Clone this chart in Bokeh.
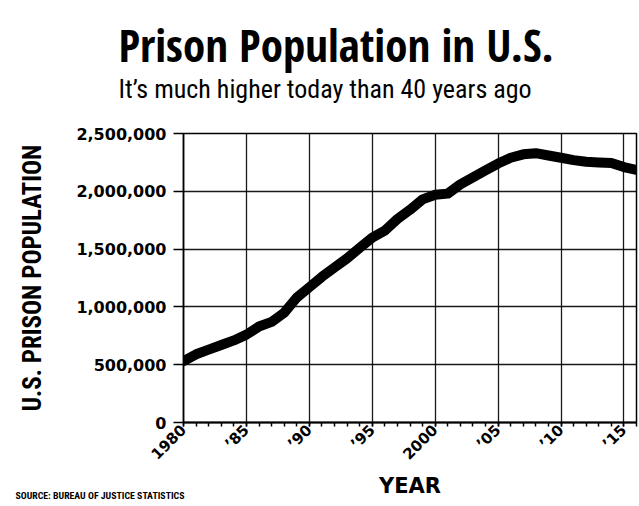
import math
from bokeh.plotting import figure
from bokeh.models import Range1d, FixedTicker, NumeralTickFormatter, Title
from bokeh.embed import file_html
from bokeh.resources import INLINE

# ---- data ----
years = list(range(1980, 2017))
population = [530000, 590000, 630000, 670000, 710000, 760000, 830000, 870000,
              950000, 1080000, 1170000, 1260000, 1340000, 1420000, 1510000,
              1600000, 1660000, 1760000, 1840000, 1930000, 1970000, 1980000,
              2060000, 2120000, 2180000, 2240000, 2290000, 2320000, 2330000,
              2310000, 2290000, 2270000, 2255000, 2250000, 2245000, 2210000,
              2185000]
x_ticks = [1980, 1985, 1990, 1995, 2000, 2005, 2010, 2015]
x_tick_labels = ["1980", "\u201985", "\u201990", "\u201995", "2000",
                 "\u201905", "\u201910", "\u201915"]
y_ticks = [0, 500000, 1000000, 1500000, 2000000, 2500000]

title_text = "Prison Population in U.S."
subtitle_text = "It\u2019s much higher today than 40 years ago"
source_text = "SOURCE: BUREAU OF JUSTICE STATISTICS"

COND = "Roboto Condensed"
TITLEFONT = "Open Sans Condensed"
HEAVY = "DejaVu Sans"

p = figure(width=639, height=506, output_backend="svg", toolbar_location=None,
           x_range=Range1d(1980, 2016), y_range=Range1d(0, 2500000),
           min_border_left=183, min_border_right=3, min_border_top=133,
           min_border_bottom=84, background_fill_color="white",
           border_fill_color="white")
p.title.text = ""

p.outline_line_color = "black"
p.outline_line_width = 1.5

# grid
p.xgrid.ticker = FixedTicker(ticks=x_ticks)
p.ygrid.ticker = FixedTicker(ticks=y_ticks)
for g in (p.xgrid, p.ygrid):
    g.grid_line_color = "black"
    g.grid_line_width = 1.3
    g.grid_line_alpha = 0.9

# x axis
xa = p.xaxis[0]
xa.ticker = FixedTicker(ticks=x_ticks, minor_ticks=years)
xa.major_label_overrides = {t: l for t, l in zip(x_ticks, x_tick_labels)}
xa.major_label_orientation = math.pi / 4
xa.major_label_text_font = HEAVY
xa.major_label_text_font_style = "bold"
xa.major_label_text_font_size = "15px"
xa.major_label_text_color = "black"
xa.major_label_standoff = 1
xa.axis_line_width = 2
xa.axis_line_color = "black"
xa.major_tick_out = 4
xa.major_tick_in = 0
xa.minor_tick_out = 4
xa.minor_tick_in = 0
xa.major_tick_line_width = 1.5
xa.minor_tick_line_width = 1.5
xa.axis_label = "YEAR"
xa.axis_label_text_font = HEAVY
xa.axis_label_text_font_style = "bold"
xa.axis_label_text_font_size = "21px"
xa.axis_label_text_color = "black"
xa.axis_label_standoff = 1
xa.axis_label_text_line_height = 1.0

# y axis
ya = p.yaxis[0]
ya.ticker = FixedTicker(ticks=y_ticks)
ya.formatter = NumeralTickFormatter(format="0,0")
ya.major_label_text_font = HEAVY
ya.major_label_text_font_style = "bold"
ya.major_label_text_font_size = "16px"
ya.major_label_text_color = "black"
ya.major_label_standoff = 7
ya.axis_line_width = 1.5
ya.axis_line_color = "black"
ya.major_tick_out = 10
ya.major_tick_in = 0
ya.major_tick_line_width = 1.3
ya.minor_tick_line_color = None
ya.axis_label = "U.S. PRISON POPULATION"
ya.axis_label_text_font = COND
ya.axis_label_text_font_style = "bold"
ya.axis_label_text_font_size = "25px"
ya.axis_label_text_color = "black"
ya.axis_label_standoff = 26

# the data line
p.line(years, population, line_width=10, line_color="black",
       line_join="round", line_cap="round")

# titles as layout panels (the first added sits nearest the frame)
p.add_layout(Title(text=subtitle_text, align="left", offset=-65,
                   text_font=COND, text_font_style="normal",
                   text_font_size="26px", text_color="black", standoff=60),
             "above")
p.add_layout(Title(text=title_text, align="left", offset=-65,
                   text_font=TITLEFONT, text_font_style="bold",
                   text_font_size="45px", text_color="black", standoff=-67),
             "above")
p.add_layout(Title(text=source_text, align="left", offset=-168,
                   vertical_align="top",
                   text_font=COND, text_font_style="bold",
                   text_font_size="9.8px", text_color="black", standoff=-21),
             "below")

open("out.html", "w").write(file_html(p, INLINE))
